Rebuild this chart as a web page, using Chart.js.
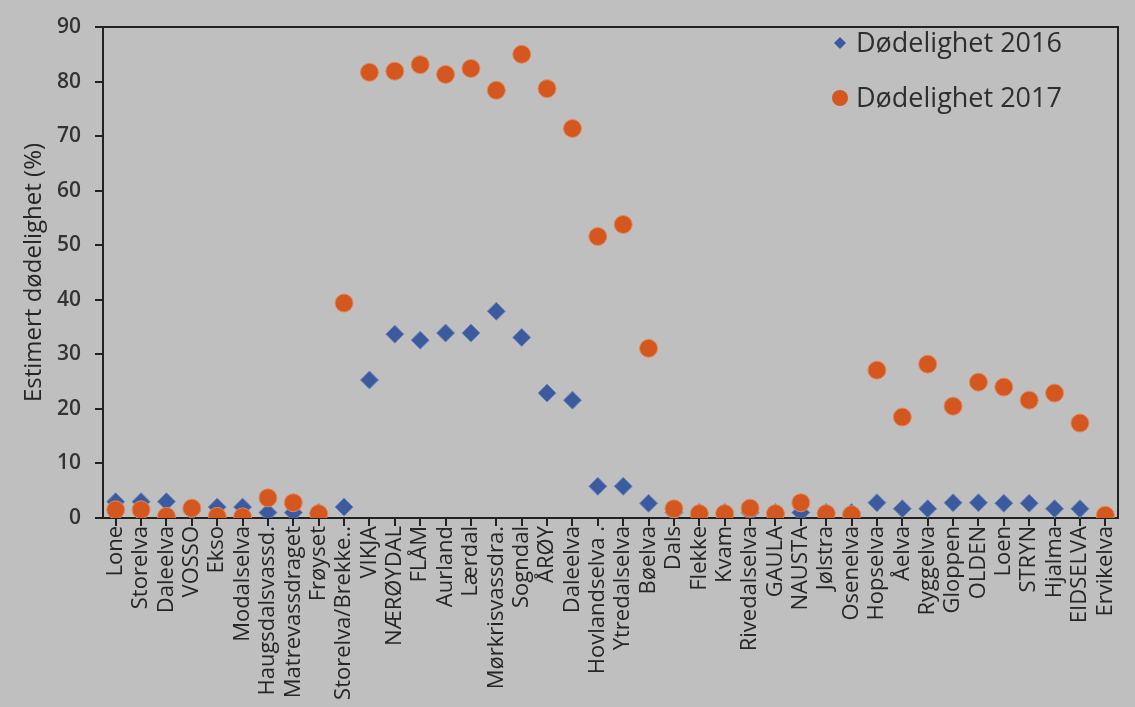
<!DOCTYPE html>
<html>
<head>
<meta charset="utf-8">
<script src="https://cdn.jsdelivr.net/npm/chart.js@4"></script>
<style>
  html, body { margin: 0; padding: 0; background: #bfbfbf; }
  #wrap { width: 1135px; height: 707px; }
</style>
</head>
<body>
<div id="wrap"><canvas id="chart" width="1135" height="707"></canvas></div>
<script>
const rivers = ['Lone', 'Storelva', 'Daleelva', 'VOSSO', 'Ekso', 'Modalselva', 'Haugsdalsvassd.', 'Matrevassdraget',
  'Frøyset', 'Storelva/Brekke..', 'VIKJA', 'NÆRØYDAL', 'FLÅM', 'Aurland', 'Lærdal', 'Mørkrisvassdra.', 'Sogndal',
  'ÅRØY', 'Daleelva', 'Hovlandselva .', 'Ytredalselva', 'Bøelva', 'Dals', 'Flekke', 'Kvam', 'Rivedalselva', 'GAULA',
  'NAUSTA', 'Jølstra', 'Osenelva', 'Hopselva', 'Åelva', 'Ryggelva', 'Gloppen', 'OLDEN', 'Loen', 'STRYN', 'Hjalma',
  'EIDSELVA', 'Ervikelva'];

const mort2016 = [3, 3, 3, 1.3, 2, 2, 1, 1, 1, 2, 25.3, 33.7, 32.6, 33.9, 33.9, 37.9, 33.1, 22.9, 21.6, 5.8, 5.8,
  2.7, 1, 1, 1, 1, 1, 1, 1, 1, 2.8, 1.7, 1.7, 2.8, 2.8, 2.7, 2.7, 1.7, 1.7, 0];

const mort2017 = [1.5, 1.5, 0.3, 1.8, 0.3, 0.2, 3.7, 2.8, 0.8, 39.4, 81.7, 81.9, 83.1, 81.3, 82.4, 78.4, 85, 78.7,
  71.4, 51.6, 53.8, 31.1, 1.7, 0.8, 0.8, 1.8, 0.8, 2.8, 0.8, 0.6, 27.1, 18.5, 28.2, 20.5, 24.9, 24, 21.6, 22.9,
  17.4, 0.5];

const yTicks = [0, 10, 20, 30, 40, 50, 60, 70, 80, 90];

const blue = '#3c5b9f';
const orange = '#d3571f';
const font = "'Open Sans', sans-serif";

// frame + legend drawn on the canvas
const extras = {
  id: 'extras',
  afterDraw(chart) {
    const { ctx, chartArea: a } = chart;
    ctx.save();
    ctx.strokeStyle = '#222';
    ctx.lineWidth = 2;
    ctx.beginPath();
    ctx.moveTo(a.left, a.top);
    ctx.lineTo(a.right, a.top);
    ctx.lineTo(a.right, a.bottom);
    ctx.stroke();

    ctx.textBaseline = 'middle';
    // diamond
    ctx.fillStyle = blue;
    ctx.beginPath();
    ctx.moveTo(840, 37); ctx.lineTo(846, 43); ctx.lineTo(840, 49); ctx.lineTo(834, 43);
    ctx.closePath(); ctx.fill();
    // circle
    ctx.fillStyle = orange;
    ctx.beginPath();
    ctx.arc(840, 98, 8, 0, Math.PI * 2);
    ctx.fill();
    ctx.font = '27px ' + font;
    ctx.fillStyle = '#2e2e2e';
    ctx.fillText('Dødelighet 2016', 856, 44);
    ctx.fillText('Dødelighet 2017', 856, 99);
    ctx.restore();
  }
};

const ctx = document.getElementById('chart').getContext('2d');
const chart = new Chart(ctx, {
  type: 'line',
  data: {
    labels: rivers,
    datasets: [{
      label: 'Dødelighet 2017',
      data: mort2017,
      showLine: false,
      pointStyle: 'circle',
      pointRadius: 9,
      backgroundColor: orange,
      borderColor: '#e08a60',
      pointBorderWidth: 1
    }, {
      label: 'Dødelighet 2016',
      data: mort2016,
      showLine: false,
      pointStyle: 'rectRot',
      pointRadius: 9,
      backgroundColor: blue,
      borderColor: '#6f86b8',
      pointBorderWidth: 1
    }]
  },
  options: {
    responsive: false,
    animation: false,
    layout: { padding: { top: 27, right: 17, left: 20, bottom: 0 } },
    plugins: { legend: { display: false }, tooltip: { enabled: false } },
    scales: {
      x: {
        offset: true,
        afterFit: s => { s.height = 189; },
        border: { color: '#222', width: 2 },
        grid: { drawOnChartArea: false, drawTicks: true, tickLength: 8, color: '#222', lineWidth: 2 },
        ticks: {
          autoSkip: false, minRotation: 90, maxRotation: 90,
          color: '#262626', font: { family: font, size: 22 }, padding: 0
        }
      },
      y: {
        min: 0, max: 90,
        afterFit: s => { s.width = 83; },
        afterBuildTicks: s => { s.ticks = yTicks.map(v => ({ value: v })); },
        border: { color: '#222', width: 2 },
        grid: { drawOnChartArea: false, drawTicks: true, tickLength: 8, color: '#222', lineWidth: 2 },
        ticks: { color: '#333', font: { family: font, size: 21, weight: '600' }, padding: 14 },
        title: {
          display: true, text: 'Estimert dødelighet (%)',
          color: '#262626', font: { family: font, size: 24 }, padding: { top: 0, bottom: 0 }
        }
      }
    }
  },
  plugins: [extras]
});
</script>
</body>
</html>
